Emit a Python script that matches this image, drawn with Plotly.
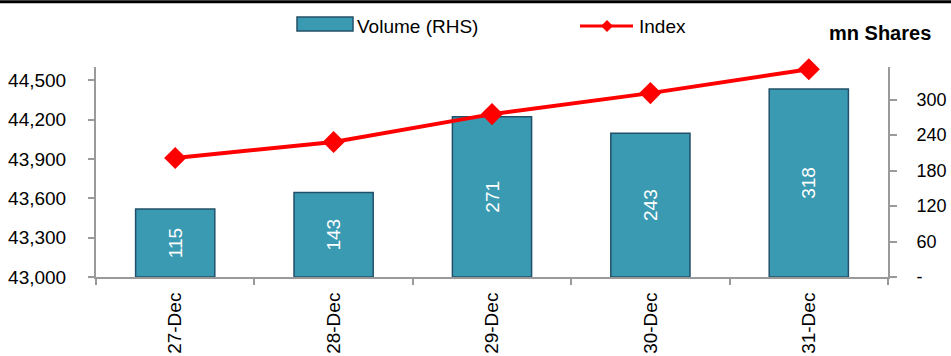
import plotly.graph_objects as go

# ---- data ----
dates = ["27-Dec", "28-Dec", "29-Dec", "30-Dec", "31-Dec"]
volume = [115, 143, 271, 243, 318]          # mn shares (RHS)
index_vals = [43907, 44029, 44241, 44401, 44583]
left_ticks = [43000, 43300, 43600, 43900, 44200, 44500]
right_ticks = [0, 60, 120, 180, 240, 300]
right_ticktext = ["-", "60", "120", "180", "240", "300"]

FONT = "Arial, Liberation Sans, sans-serif"
FS = 19
BAR = "#3A9AB2"
BAR_EDGE = "#22506A"
RED = "#FF0000"
AX = "#9A9A9A"

# plot area in pixels (for legend placement in paper coords)
PL, PR, PT, PB = 96, 888, 67, 277.5
W, H = 951, 356
def px(x):
    return (x - PL) / (PR - PL)
def py(y):
    return (PB - y) / (PB - PT)

fig = go.Figure()
fig.add_trace(go.Bar(
    x=dates, y=volume, name="Volume (RHS)", yaxis="y",
    marker=dict(color=BAR, line=dict(color=BAR_EDGE, width=1.5)),
    text=[str(v) for v in volume], textposition="inside",
    insidetextanchor="middle", textangle=-90,
    textfont=dict(family=FONT, size=FS, color="white"),
    showlegend=False,
))
fig.add_trace(go.Scatter(
    x=dates, y=index_vals, name="Index", yaxis="y2", mode="lines+markers",
    line=dict(color=RED, width=4),
    marker=dict(symbol="diamond", size=17, color=RED),
    cliponaxis=False, showlegend=False,
))

fig.update_layout(
    width=W, height=H,
    margin=dict(l=PL, r=W - PR, t=PT, b=H - PB, autoexpand=False),
    paper_bgcolor="white", plot_bgcolor="white",
    font=dict(family=FONT, size=FS, color="black"),
    bargap=0.5,
    xaxis=dict(
        type="category", showline=True, linecolor=AX, linewidth=2,
        ticks="outside", tickson="boundaries", ticklen=6, tickcolor=AX, tickwidth=2,
        tickangle=-90, ticklabelstandoff=6, showgrid=False, automargin=False,
        tickfont=dict(family=FONT, size=FS),
    ),
    yaxis=dict(
        side="right", range=[0, 355], tickvals=right_ticks, ticktext=right_ticktext,
        showline=True, linecolor=AX, linewidth=2, ticks="outside", ticklen=7,
        tickcolor=AX, tickwidth=2, showgrid=False, zeroline=False, automargin=False,
        ticklabelstandoff=16, tickfont=dict(family=FONT, size=18),
    ),
    yaxis2=dict(
        side="left", overlaying="y", range=[43000, 44600], tickvals=left_ticks,
        tickformat=",", showline=True, linecolor=AX, linewidth=2, ticks="outside",
        ticklen=6, tickcolor=AX, tickwidth=2, showgrid=False, zeroline=False,
        automargin=False, ticklabelstandoff=18, tickfont=dict(family=FONT, size=FS),
    ),
)

shapes = []
# top black rule
shapes.append(dict(type="line", xref="paper", yref="paper",
                   x0=px(0), x1=px(W), y0=py(1.5), y1=py(1.5),
                   line=dict(color="black", width=3)))
# volume legend swatch
shapes.append(dict(type="rect", xref="paper", yref="paper",
                   x0=px(297), x1=px(353), y0=py(31), y1=py(17),
                   fillcolor=BAR, line=dict(color=BAR_EDGE, width=1.5)))
# index legend line + diamond
shapes.append(dict(type="line", xref="paper", yref="paper",
                   x0=px(580), x1=px(633), y0=py(26), y1=py(26),
                   line=dict(color=RED, width=3)))
d = 6
shapes.append(dict(type="path", xref="paper", yref="paper",
                   path=(f"M {px(607-d)} {py(26)} L {px(607)} {py(26-d)} "
                         f"L {px(607+d)} {py(26)} L {px(607)} {py(26+d)} Z"),
                   fillcolor=RED, line=dict(color=RED, width=0)))
fig.update_layout(shapes=shapes)

fig.add_annotation(x=px(355), y=py(26), xref="paper", yref="paper",
                   text="Volume (RHS)", showarrow=False, xanchor="left", yanchor="middle",
                   font=dict(family=FONT, size=FS))
fig.add_annotation(x=px(637), y=py(26), xref="paper", yref="paper",
                   text="Index", showarrow=False, xanchor="left", yanchor="middle",
                   font=dict(family=FONT, size=FS))
fig.add_annotation(x=px(827), y=py(33), xref="paper", yref="paper",
                   text="<b>mn Shares</b>", showarrow=False, xanchor="left", yanchor="middle",
                   font=dict(family=FONT, size=20))

fig.write_html("out.html")
